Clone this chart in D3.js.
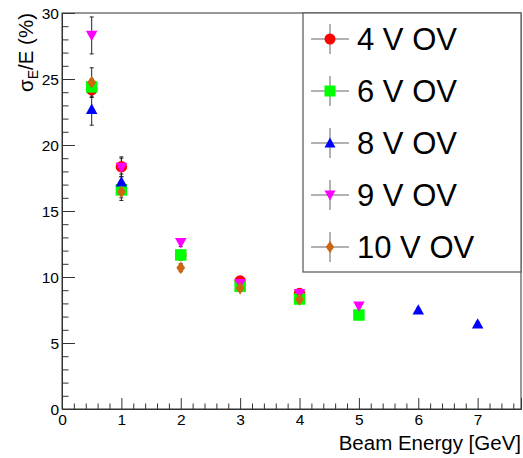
<!DOCTYPE html>
<html>
<head>
<meta charset="utf-8">
<script src="https://cdn.jsdelivr.net/npm/d3@7"></script>
<style>
  html, body { margin: 0; padding: 0; background: #fff; }
  svg { display: block; font-family: "Liberation Sans", Arial, Helvetica, sans-serif; }
</style>
</head>
<body>
<svg id="chart" width="523" height="458"></svg>
<script>
// Energy resolution vs beam energy for several over-voltage settings
const seriesNames = ["4 V OV", "6 V OV", "8 V OV", "9 V OV", "10 V OV"];
const seriesColors = ["#ff0000", "#00ff00", "#0000ff", "#ff00ff", "#cc6611"];
const seriesShapes = ["circle", "square", "triUp", "triDown", "diamond"];

const energy4V = [0.5, 1, 2, 3, 4];
const res4V    = [24.2, 18.35, 11.65, 9.7, 8.75];
const err4V    = [0.6, 0.75, 0.3, 0.2, 0.2];

const energy6V = [0.5, 1, 2, 3, 4, 5];
const res6V    = [24.4, 16.6, 11.67, 9.3, 8.33, 7.12];
const err6V    = [0.6, 0.6, 0.3, 0.2, 0.2, 0.15];

const energy8V = [0.5, 1, 6, 7];
const res8V    = [22.7, 17.2, 7.5, 6.44];
const err8V    = [1.2, 0.6, 0.15, 0.15];

const energy9V = [0.5, 1, 2, 3, 4, 5];
const res9V    = [28.3, 18.3, 12.6, 9.5, 8.75, 7.8];
const err9V    = [1.4, 0.7, 0.3, 0.2, 0.25, 0.15];

const energy10V = [0.5, 1, 2, 3, 4];
const res10V    = [24.75, 16.45, 10.7, 9.15, 8.3];
const err10V    = [1.1, 0.65, 0.3, 0.25, 0.2];

const xTicks = [0, 1, 2, 3, 4, 5, 6, 7];
const yTicks = [0, 5, 10, 15, 20, 25, 30];

const seriesData = [
  [energy4V, res4V, err4V],
  [energy6V, res6V, err6V],
  [energy8V, res8V, err8V],
  [energy9V, res9V, err9V],
  [energy10V, res10V, err10V]
].map(([xs, ys, es], i) => ({
  name: seriesNames[i], color: seriesColors[i], shape: seriesShapes[i],
  points: xs.map((x, j) => ({ x, y: ys[j], e: es[j] }))
}));

const svg = d3.select("#chart");
const frame = { left: 62, right: 521, top: 13, bottom: 409 };
const axisColor = "#333";

const x = d3.scaleLinear().domain([0, 7.73]).range([frame.left, frame.right]);
const y = d3.scaleLinear().domain([0, 30]).range([frame.bottom, frame.top]);

// marker path generators, centred on the origin
function markerPath(shape, s) {
  switch (shape) {
    case "circle": return d3.symbol(d3.symbolCircle, Math.PI * (s * 0.5) ** 2)();
    case "square": { const h = s / 2; return `M${-h},${-h}H${h}V${h}H${-h}Z`; }
    case "triUp": { const h = s / 2; return `M0,${-h}L${h},${h * 0.8}L${-h},${h * 0.8}Z`; }
    case "triDown": { const h = s / 2; return `M0,${h}L${h},${-h * 0.8}L${-h},${-h * 0.8}Z`; }
    case "diamond": { const w = s * 0.38, h = s * 0.55; return `M0,${-h}L${w},0L0,${h}L${-w},0Z`; }
  }
}

// frame box
svg.append("rect")
  .attr("x", frame.left).attr("y", frame.top)
  .attr("width", frame.right - frame.left).attr("height", frame.bottom - frame.top)
  .attr("fill", "none").attr("stroke", axisColor).attr("stroke-width", 1);

// x axis: inward ticks, major at integers, minor every 0.2
const xMinor = d3.range(0, 7.73, 0.2).filter(v => Math.abs(v - Math.round(v)) > 1e-6);
svg.append("g").attr("transform", `translate(0,${frame.bottom})`)
  .call(d3.axisBottom(x).tickValues(xTicks).tickSize(-11).tickFormat(d3.format("d")))
  .call(g => g.select(".domain").attr("stroke", axisColor))
  .call(g => g.selectAll(".tick line").attr("stroke", axisColor))
  .call(g => g.selectAll(".tick text").attr("y", 16).attr("dy", 0)
    .attr("font-size", 15.5).attr("fill", "#000").attr("font-family", "Liberation Sans, Arial, sans-serif"));
svg.append("g").attr("transform", `translate(0,${frame.bottom})`)
  .call(d3.axisBottom(x).tickValues(xMinor).tickSize(-5.5).tickFormat(""))
  .call(g => g.select(".domain").remove())
  .call(g => g.selectAll(".tick line").attr("stroke", axisColor));

// y axis: inward ticks, major every 5, minor every 1
const yMinor = d3.range(0, 31, 1).filter(v => v % 5 !== 0);
svg.append("g").attr("transform", `translate(${frame.left},0)`)
  .call(d3.axisLeft(y).tickValues(yTicks).tickSize(-13).tickPadding(0).tickFormat(d3.format("d")))
  .call(g => g.select(".domain").attr("stroke", axisColor))
  .call(g => g.selectAll(".tick line").attr("stroke", axisColor))
  .call(g => g.selectAll(".tick text").attr("x", -3).attr("dy", "0.36em")
    .attr("font-size", 15.5).attr("fill", "#000").attr("font-family", "Liberation Sans, Arial, sans-serif"));
svg.append("g").attr("transform", `translate(${frame.left},0)`)
  .call(d3.axisLeft(y).tickValues(yMinor).tickSize(-6.5).tickFormat(""))
  .call(g => g.select(".domain").remove())
  .call(g => g.selectAll(".tick line").attr("stroke", axisColor));

// axis titles
svg.append("text")
  .attr("x", frame.right).attr("y", 450)
  .attr("text-anchor", "end").attr("font-size", 20.5).attr("fill", "#000")
  .text("Beam Energy [GeV]");

const yTitle = svg.append("text")
  .attr("transform", `translate(33,${frame.top}) rotate(-90)`)
  .attr("text-anchor", "end").attr("font-size", 20.5).attr("fill", "#000");
yTitle.append("tspan").text("σ");
yTitle.append("tspan").attr("font-size", 14).attr("dy", 5).text("E");
yTitle.append("tspan").attr("dy", -5).text("/E (%)");

// error bars and markers
const plot = svg.append("g");
seriesData.forEach(s => {
  const g = plot.append("g");
  g.selectAll("line.err").data(s.points).join("line")
    .attr("class", "err")
    .attr("x1", d => x(d.x)).attr("x2", d => x(d.x))
    .attr("y1", d => y(d.y + d.e)).attr("y2", d => y(d.y - d.e))
    .attr("stroke", "#222").attr("stroke-width", 1);
  g.selectAll("line.cap").data(s.points.flatMap(d => [d.y + d.e, d.y - d.e].map(v => ({ x: d.x, v })))).join("line")
    .attr("class", "cap")
    .attr("x1", d => x(d.x) - 2).attr("x2", d => x(d.x) + 2)
    .attr("y1", d => y(d.v)).attr("y2", d => y(d.v))
    .attr("stroke", "#222").attr("stroke-width", 1);
});
seriesData.forEach(s => {
  plot.append("g").selectAll("path").data(s.points).join("path")
    .attr("transform", d => `translate(${x(d.x)},${y(d.y)})`)
    .attr("d", markerPath(s.shape, 11.5))
    .attr("fill", s.color);
});

// legend
const legend = { left: 303, top: 13, right: 521, bottom: 272, rowH: 52, firstY: 39 };
svg.append("rect")
  .attr("x", legend.left).attr("y", legend.top)
  .attr("width", legend.right - legend.left).attr("height", legend.bottom - legend.top)
  .attr("fill", "#fff").attr("stroke", "#555").attr("stroke-width", 1.2);
const rows = svg.append("g").selectAll("g").data(seriesData).join("g")
  .attr("transform", (d, i) => `translate(330,${legend.firstY + i * legend.rowH})`);
rows.append("line").attr("x1", -19).attr("x2", 19).attr("stroke", "#666");
rows.append("line").attr("y1", -15).attr("y2", 15).attr("stroke", "#666");
rows.append("path").attr("d", d => markerPath(d.shape, 11)).attr("fill", d => d.color);
rows.append("text").attr("x", 27).attr("y", 11)
  .attr("font-size", 31).attr("fill", "#000").text(d => d.name);
</script>
</body>
</html>
